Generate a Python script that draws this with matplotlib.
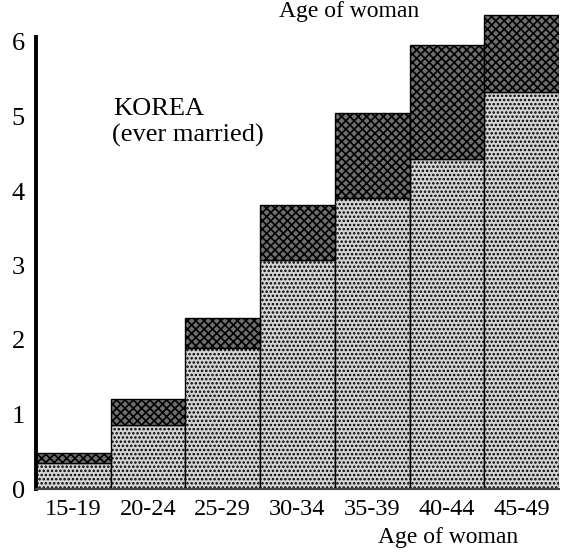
import numpy as np
import matplotlib
matplotlib.use("Agg")
import matplotlib.pyplot as plt

# data (children per woman)
age_groups = ["15-19", "20-24", "25-29", "30-34", "35-39", "40-44", "45-49"]
lower = [0.35, 0.86, 1.89, 3.07, 3.91, 4.43, 5.33]   # light dotted part
total = [0.48, 1.21, 2.30, 3.81, 5.05, 5.96, 6.36]   # top of dark part
upper = [t - l for t, l in zip(total, lower)]
yticks = [0, 1, 2, 3, 4, 5, 6]

plt.rcParams["font.family"] = ["Liberation Serif", "DejaVu Serif"]
plt.rcParams["hatch.linewidth"] = 1.2

fig = plt.figure(figsize=(5.69, 5.56), dpi=100)
ax = fig.add_axes([36 / 569, 67 / 556, 523 / 569, 479 / 556])

x = np.arange(len(age_groups))
ax.bar(x, lower, width=1.0, align="edge", facecolor="#d4d4d4",
       edgecolor="black", hatch="....", linewidth=1.0)
ax.bar(x, upper, bottom=lower, width=1.0, align="edge", facecolor="#6e6e6e",
       edgecolor="black", hatch="xxxx", linewidth=1.0)

ax.set_xlim(0, len(age_groups))
ax.set_ylim(0, 479 / 74.5)
ax.set_xticks(x + 0.5)
ax.set_xticklabels(age_groups, fontsize=17.5)
ax.set_yticks(yticks)
ax.set_yticklabels([str(v) for v in yticks], fontsize=19)
ax.tick_params(length=0)
ax.tick_params(axis="x", pad=7)
ax.tick_params(axis="y", pad=8)

for s in ["top", "right"]:
    ax.spines[s].set_visible(False)
ax.spines["left"].set_linewidth(2.8)
ax.spines["left"].set_bounds(0, (489 - 37) / 74.5)
ax.spines["bottom"].set_linewidth(1.5)
ax.spines["bottom"].set_color("#444444")

fig.text(113 / 569, 1 - 109 / 556, "KOREA", fontsize=19,
         va="center", ha="left")
fig.text(112 / 569, 1 - 135 / 556, "(ever married)", fontsize=19,
         va="center", ha="left")
fig.text(349 / 569, 1 - 12 / 556, "Age of woman", fontsize=17,
         ha="center", va="center")
fig.text(518 / 569, 1 - 538 / 556, "Age of woman", fontsize=17,
         ha="right", va="center")

fig.savefig("out.png", dpi=100)
